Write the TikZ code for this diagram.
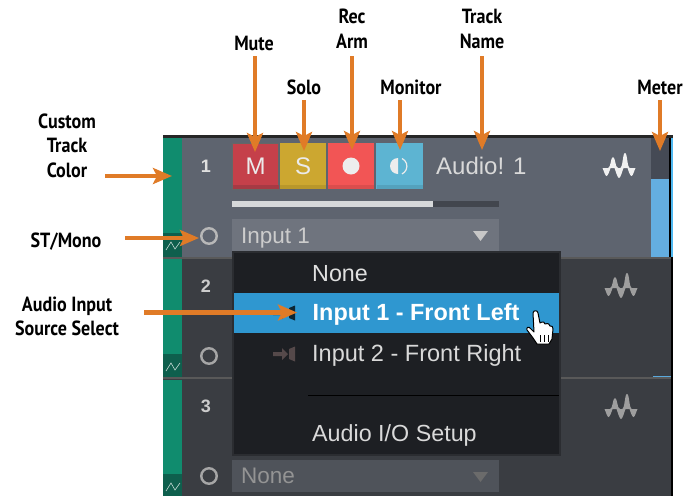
\documentclass[tikz,border=0pt]{standalone}
\usepackage{fontspec}
\setmainfont{Liberation Sans}
\newfontfamily\lblfont{PT Sans}
\usetikzlibrary{arrows.meta}
\definecolor{orangeA}{HTML}{E07B27}
\definecolor{greenA}{HTML}{108C6E}
\definecolor{greenD}{HTML}{0E5F4D}
\definecolor{panelA}{HTML}{5E646F}
\definecolor{panelB}{HTML}{3A3D42}
\definecolor{menuBg}{HTML}{1D1F23}
\definecolor{hiBlue}{HTML}{2F97D0}
\definecolor{meterD}{HTML}{454A55}
\definecolor{meterB}{HTML}{64AEE0}
\definecolor{cyanL}{HTML}{4FB8F0}
\definecolor{lineB}{HTML}{5AA9DC}
\definecolor{muteF}{HTML}{C5404A}
\definecolor{soloF}{HTML}{CCA730}
\definecolor{recF}{HTML}{F25555}
\definecolor{monF}{HTML}{5DB4D2}
\definecolor{muteD}{HTML}{A63A44}
\definecolor{soloD}{HTML}{B8972B}
\definecolor{recD}{HTML}{DA4D4D}
\definecolor{monD}{HTML}{54A2BD}
\definecolor{sliderD}{HTML}{42464E}
\definecolor{sliderL}{HTML}{D6D8DA}
\definecolor{boxA}{HTML}{6F747E}
\definecolor{boxB}{HTML}{4F535A}
\definecolor{menuE}{HTML}{2B2D31}
\definecolor{trkD}{HTML}{55494A}
\newcommand{\lbl}[1]{\scalebox{0.88}[1]{\lblfont\bfseries\fontsize{20.5}{24.5}\selectfont\begin{tabular}{@{}c@{}}#1\end{tabular}}}
\newcommand{\ui}[1]{\fontsize{#1}{#1}\selectfont}
\tikzset{
  callout/.style={inner sep=0pt,text=black,align=center},
  arr/.style={draw=orangeA,line width=4.6pt,-{Stealth[length=19pt,width=16pt,inset=4pt]}},
  btn/.style={minimum width=46.5pt,minimum height=46pt,inner sep=0pt,text=white!92!black},
  nodeText/.style={inner sep=0pt,anchor=base west},
  numtext/.style={inner sep=0pt,font=\bfseries\ui{18}},
  radio/.style={circle,draw=#1,line width=2.4pt,minimum size=15.5pt,inner sep=0pt},
  wavy/.pic={
    \fill[pic actions] (-11,0) .. controls (-8,0) and (-8.5,-11) .. (-6,-11) .. controls (-3.5,-11) and (-4,0) .. (-1,0) -- cycle;
    \fill[pic actions] (1,0) .. controls (4,0) and (3.5,-15) .. (6,-15) .. controls (8.5,-15) and (8,0) .. (11,0) -- cycle;
    \fill[pic actions] (-16.5,0) -- (-8.5,0) .. controls (-9.5,3) and (-11,8) .. (-12.5,8) .. controls (-14,8) and (-15,3) .. (-16.5,0) -- cycle;
    \fill[pic actions] (-4.5,0) -- (4.5,0) .. controls (3,4) and (1.5,10) .. (0,10) .. controls (-1.5,10) and (-3,4) .. (-4.5,0) -- cycle;
    \fill[pic actions] (8.5,0) -- (16.5,0) .. controls (15,3) and (14,8) .. (12.5,8) .. controls (11,8) and (9.5,3) .. (8.5,0) -- cycle;
  },
  trk/.pic={
    \fill[pic actions] (-11,-2) -- (-2,-2) -- (-2,-6) -- (4,0) -- (-2,6) -- (-2,2) -- (-11,2) -- cycle;
    \fill[pic actions] (5,-5) -- (11,-7.5) -- (11,7.5) -- (5,5) -- cycle;
  }
}
\begin{document}
\begin{tikzpicture}[x=1pt,y=-1pt]
\useasboundingbox (0,0) rectangle (687,496);
\fill[white] (0,0) rectangle (687,496);
% frame
\fill[black!85] (163,135) rectangle (673,139);
% track 1
\fill[panelA] (163,138) rectangle (670,257);
\fill[greenA] (163,138) rectangle (182,233);
\fill[greenD] (163,233) rectangle (182,257);
% track 2 and 3
\fill[panelB] (163,258) rectangle (671,377);
\fill[panelB] (163,379) rectangle (671,496);
\fill[black!65] (163,257) rectangle (671,258.5);
\fill[black!65] (163,377) rectangle (671,379);
\fill[greenA] (163,259) rectangle (182,354);
\fill[greenD] (163,354) rectangle (182,377);
\fill[greenA] (163,380) rectangle (182,474);
\fill[greenD] (163,474) rectangle (182,496);
\foreach \yy in {233,354,474}{
  \draw[white!75!greenD,line width=0.6pt] (166,\yy+17) -- (171,\yy+9) -- (175,\yy+16) -- (180,\yy+9);
}
% meter
\fill[meterD] (651,138) rectangle (669,179);
\fill[meterB] (651,179) rectangle (669,257);
\fill[cyanL] (671,138) rectangle (673,257);
\fill[black] (669,138) rectangle (671,257);
\fill[black] (671,257) rectangle (673,496);
\fill[lineB] (653,375.5) rectangle (671,377);
% numbers
\node[numtext,text=white!88!black] (n1) at (206,166) {1};
\node[numtext,text=white!80!black] (n2) at (206,286) {2};
\node[numtext,text=white!80!black] (n3) at (206,406) {3};
% buttons
\node[btn,fill=muteF,draw=black!60,line width=0.6pt] (bM) at (255.5,166) {\ui{24}M};
\node[btn,fill=soloF] (bS) at (303,166) {\ui{24}S};
\node[btn,fill=recF] (bR) at (351,166) {};
\node[btn,fill=monF] (bC) at (399.5,166) {};
\fill[muteD] (232.5,185) rectangle (278.5,189);
\fill[soloD] (280,185) rectangle (326,189);
\fill[recD] (328,185) rectangle (374,189);
\fill[monD] (376.5,185) rectangle (422.5,189);
\fill[white!93!black] (351,166) circle (8.5);
\fill[white!93!black] (398,158) arc (-90:-270:8) -- cycle;
\draw[white!93!black,line width=1.2pt] (402,158.5) arc (-65:65:8.5);
\node[nodeText,text=white!85!black] (tname) at (436,174) {\ui{24}Audio! 1};
% slider
\fill[sliderD] (232,201) rectangle (499,207);
\fill[sliderL] (232,201) rectangle (433,207);
% radios
\node[radio=white!72!black] (c1) at (209,236) {};
\node[radio=white!65!black] (c2) at (209,356) {};
\node[radio=white!65!black] (c3) at (209,476) {};
% input boxes
\fill[boxA] (232,219) rectangle (499,252);
\node[nodeText,text=white!80!black] (inp) at (241,243) {\ui{22.5}Input 1};
\fill[white!78!black] (473,231) -- (488,231) -- (480.5,241) -- cycle;
\fill[boxB] (232,460) rectangle (499,492);
\node[nodeText,text=white!58!black] (none2) at (241,483) {\ui{22.5}None};
\fill[white!42!black] (473,472) -- (488,472) -- (480.5,482) -- cycle;
% wave icons
\pic[fill=white!94!black] at (619,168) {wavy};
\pic[fill=white!62!black] at (621,288) {wavy};
\pic[fill=white!62!black] at (621,409) {wavy};
% menu
\fill[menuE] (232,251) rectangle (561,456);
\fill[menuBg] (234,253) rectangle (559,454);
\fill[hiBlue] (234,293) rectangle (559,333);
\node[nodeText,text=white!88!black] (m1) at (312,281) {\ui{23.3}None};
\node[nodeText,text=white] (m2) at (312.5,320.5) {\ui{23.4}\bfseries Input 1 - Front Left};
\node[nodeText,text=white!85!black] (m3) at (312,361) {\ui{23.5}Input 2 - Front Right};
\node[nodeText,text=white!85!black] (m4) at (312,441) {\ui{23.3}Audio I/O Setup};
\draw[black,line width=1pt] (308,395) -- (559,395);
\pic[fill=black!75!hiBlue] at (284,313) {trk};
\pic[fill=trkD] at (284,354) {trk};
% hand cursor
\draw[fill=white,draw=black,line width=1pt,line join=round]
 (533,313) .. controls (533,310) and (538,310) .. (538,313) -- (540,323)
 .. controls (543,321) and (545,322) .. (545,324) .. controls (548,323) and (550,324) .. (550,326)
 .. controls (552,325) and (553,327) .. (553,329) -- (552,339) -- (549,344) -- (537,344)
 -- (533,338) -- (527,330) .. controls (526,327) and (529,326) .. (531,329) -- (534,332) -- cycle;
\draw[black,line width=0.9pt] (540,335) -- (540,342) (544,335) -- (544,342) (548,335) -- (548,342);
% labels
\node[callout] (lMute) at (254,45.5) {\lbl{Mute}};
\node[callout] (lSolo) at (304,89.5) {\lbl{Solo}};
\node[callout] (lRec) at (352,31) {\lbl{Rec\\Arm}};
\node[callout] (lMon) at (411,89.5) {\lbl{Monitor}};
\node[callout] (lName) at (482,31) {\lbl{Track\\Name}};
\node[callout] (lMeter) at (660,89.5) {\lbl{Meter}};
\node[callout] (lColor) at (67,148) {\lbl{Custom\\Track\\Color}};
\node[callout] (lST) at (66,242.5) {\lbl{ST/Mono}};
\node[callout] (lSrc) at (67,318.5) {\lbl{Audio Input\\Source Select}};
% arrow ends
\coordinate (sM) at (255,56);
\coordinate (tM) at (255,152);
\coordinate (sS) at (304,100);
\coordinate (tS) at (304,151);
\coordinate (sR) at (352,56);
\coordinate (tR) at (352,150);
\coordinate (sC) at (400,100);
\coordinate (tC) at (400,150);
\coordinate (sN) at (482,56);
\coordinate (tN) at (482,150);
\coordinate (sMe) at (660,100);
\coordinate (tMe) at (660,151);
\coordinate (tG0) at (105,176);
\coordinate (tG) at (172,176);
\coordinate (tT0) at (125,238);
\coordinate (tT) at (199,238);
\coordinate (tI0) at (144,312.5);
\coordinate (tI) at (297,312.5);
\draw[arr] (sM) -- (tM);
\draw[arr] (sS) -- (tS);
\draw[arr] (sR) -- (tR);
\draw[arr] (sC) -- (tC);
\draw[arr] (sN) -- (tN);
\draw[arr] (sMe) -- (tMe);
\draw[arr] (tG0) -- (tG);
\draw[arr] (tT0) -- (tT);
\draw[arr] (tI0) -- (tI);
\end{tikzpicture}
\end{document}
